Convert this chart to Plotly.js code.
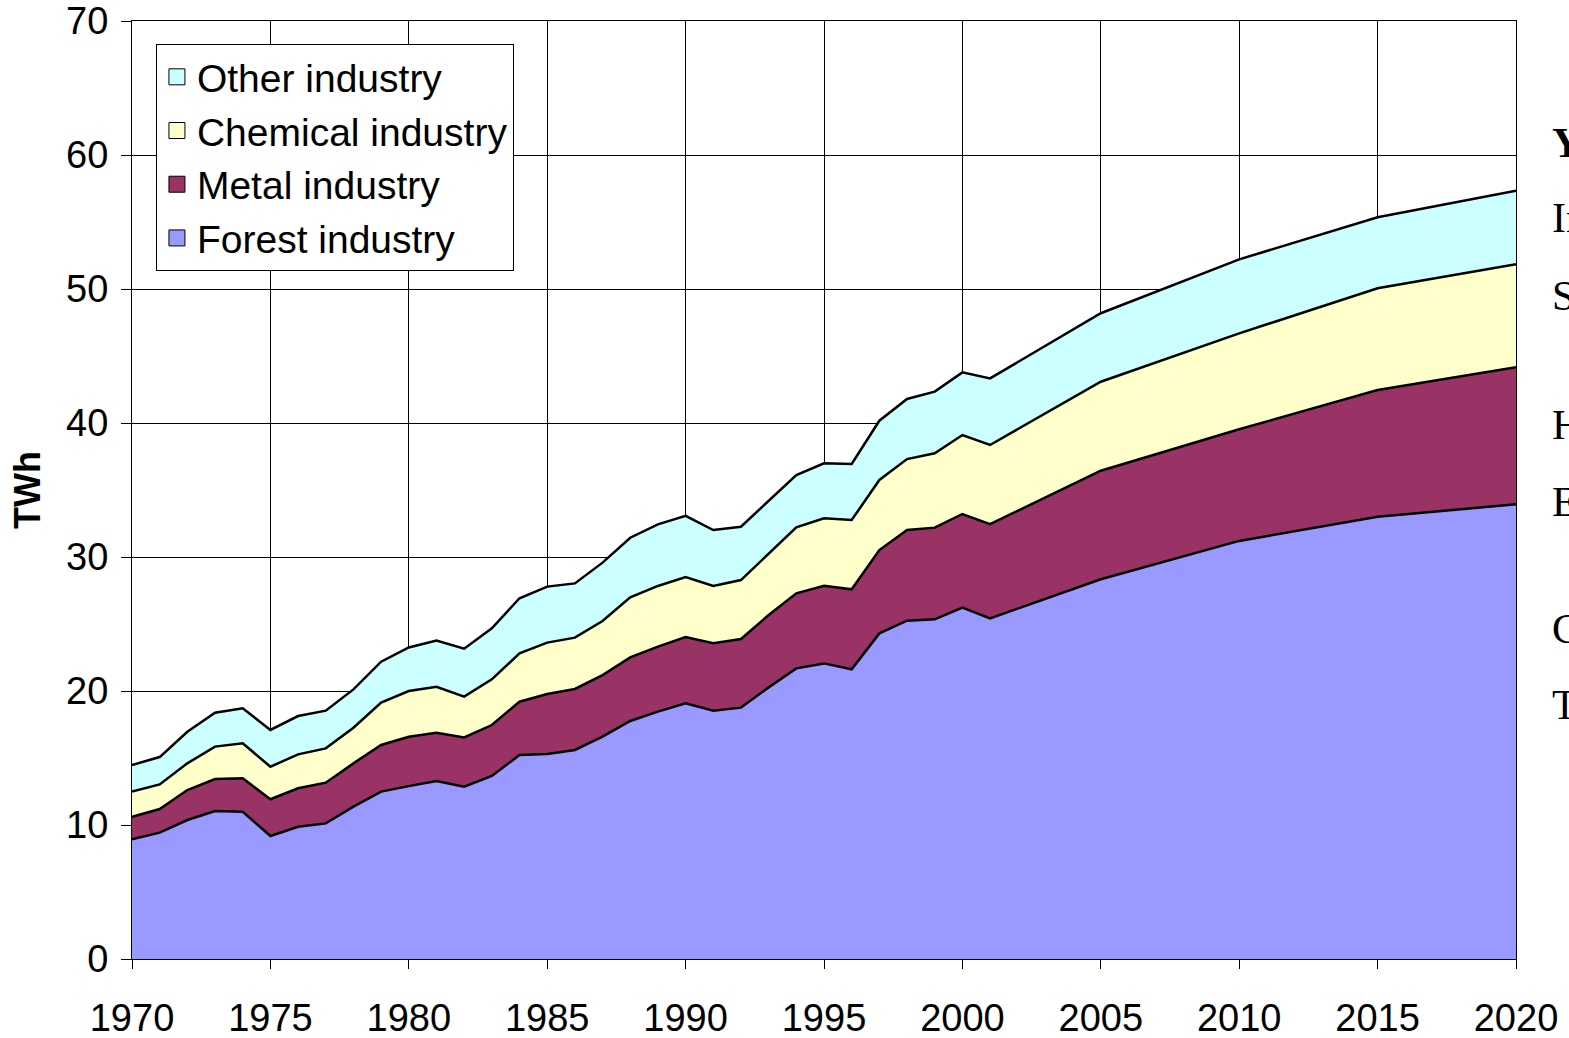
<!DOCTYPE html>
<html>
<head>
<meta charset="utf-8">
<script src="https://cdn.plot.ly/plotly-3.0.1.min.js"></script>
<style>
  html, body { margin: 0; padding: 0; background: #fff; }
  #chart { width: 1569px; height: 1038px; }
</style>
</head>
<body>
<div id="chart"></div>
<script>
// industrial electricity use, TWh
const years = [1970, 1971, 1972, 1973, 1974, 1975, 1976, 1977, 1978, 1979,
               1980, 1981, 1982, 1983, 1984, 1985, 1986, 1987, 1988, 1989,
               1990, 1991, 1992, 1993, 1994, 1995, 1996, 1997, 1998, 1999,
               2000, 2001, 2005, 2010, 2015, 2020];

const forest = [8.93, 9.43, 10.37, 11.04, 10.99, 9.18, 9.87, 10.12, 11.37, 12.49,
                12.90, 13.28, 12.86, 13.66, 15.22, 15.30, 15.60, 16.59, 17.76, 18.46,
                19.08, 18.53, 18.76, 20.27, 21.69, 22.06, 21.62, 24.30, 25.25, 25.35,
                26.22, 25.42, 28.34, 31.20, 33.01, 33.93];

const metal = [1.69, 1.76, 2.24, 2.39, 2.49, 2.74, 2.87, 3.04, 3.23, 3.48,
               3.69, 3.61, 3.68, 3.80, 3.98, 4.48, 4.55, 4.60, 4.75, 4.85,
               4.94, 5.03, 5.12, 5.40, 5.60, 5.80, 5.97, 6.22, 6.76, 6.84,
               6.99, 7.03, 8.10, 8.33, 9.45, 10.23];

const chemical = [1.87, 1.84, 1.99, 2.42, 2.62, 2.43, 2.53, 2.56, 2.66, 3.16,
                  3.41, 3.43, 3.04, 3.41, 3.61, 3.83, 3.83, 4.03, 4.48, 4.53,
                  4.48, 4.28, 4.40, 4.60, 4.92, 5.03, 5.17, 5.23, 5.30, 5.55,
                  5.89, 5.91, 6.64, 7.16, 7.59, 7.68];

const other = [1.99, 2.04, 2.36, 2.53, 2.61, 2.74, 2.86, 2.81, 2.86, 3.06,
               3.25, 3.44, 3.58, 3.81, 4.11, 4.18, 4.05, 4.36, 4.45, 4.60,
               4.57, 4.17, 3.98, 3.91, 3.91, 4.10, 4.18, 4.42, 4.48, 4.60,
               4.68, 4.97, 5.11, 5.52, 5.30, 5.50];

const seriesNames = ['Forest industry', 'Metal industry', 'Chemical industry', 'Other industry'];
const seriesColors = ['#9999FF', '#993366', '#FFFFCC', '#CCFFFF'];

// letters of a text block that is cut off at the right edge of the slide
const sideLabels = ['Y', 'In', 'S', 'H', 'E', 'C', 'T'];
const sideLabelY = [0.870, 0.790, 0.707, 0.569, 0.487, 0.352, 0.271];

const font = 'Liberation Sans, Arial, sans-serif';

// stacked areas (no legend entry of their own)
const areas = [forest, metal, chemical, other].map((values, i) => ({
    x: years,
    y: values,
    name: seriesNames[i],
    type: 'scatter',
    mode: 'lines',
    stackgroup: 'one',
    showlegend: false,
    fillcolor: seriesColors[i],
    line: { color: '#000000', width: 2.5 },
    hoverinfo: 'x+y+name'
}));

// legend-only entries so the key shows square swatches like the original
const keys = seriesNames.map((name, i) => ({
    x: [null],
    y: [null],
    name: name,
    type: 'scatter',
    mode: 'markers',
    legendgroup: 'g' + i,
    marker: { symbol: 'square', size: 22, color: seriesColors[i], line: { color: '#000', width: 1 } },
    hoverinfo: 'skip'
}));

const annotations = sideLabels.map((t, i) => ({
    xref: 'paper',
    yref: 'paper',
    x: 1.0246,
    y: sideLabelY[i],
    xanchor: 'left',
    yanchor: 'middle',
    text: i === 0 ? '<b>' + t + '</b>' : t,
    showarrow: false,
    font: { family: 'Liberation Serif, Times New Roman, serif', size: 42, color: '#000' }
}));

const layout = {
    width: 1569,
    height: 1038,
    margin: { l: 132, r: 53, t: 21, b: 79 },
    paper_bgcolor: 'white',
    plot_bgcolor: 'white',
    font: { family: font, size: 38, color: '#000' },
    showlegend: true,
    legend: {
        x: 0.0173,
        y: 0.9755,
        xanchor: 'left',
        yanchor: 'top',
        traceorder: 'reversed',
        tracegroupgap: 4,
        itemsizing: 'trace',
        bgcolor: 'white',
        bordercolor: '#000',
        borderwidth: 1,
        font: { family: font, size: 39, color: '#000' }
    },
    xaxis: {
        range: [1970, 2020],
        tickmode: 'array',
        tickvals: [1970, 1975, 1980, 1985, 1990, 1995, 2000, 2005, 2010, 2015, 2020],
        ticks: 'outside',
        ticklen: 9,
        tickcolor: '#000',
        ticklabelstandoff: 16,
        showgrid: true,
        gridcolor: '#000',
        gridwidth: 1,
        showline: true,
        linecolor: '#000',
        linewidth: 1,
        mirror: true,
        zeroline: false,
        tickfont: { family: font, size: 38 }
    },
    yaxis: {
        range: [0, 70],
        dtick: 10,
        ticks: 'outside',
        ticklen: 10,
        tickcolor: '#000',
        ticklabelstandoff: 5,
        showgrid: true,
        gridcolor: '#000',
        gridwidth: 1,
        showline: true,
        linecolor: '#000',
        linewidth: 1,
        mirror: true,
        zeroline: false,
        tickfont: { family: font, size: 38 },
        title: { text: '<b>TWh</b>', font: { family: font, size: 36 }, standoff: 14 }
    },
    annotations: annotations
};

Plotly.newPlot('chart', areas.concat(keys), layout, { displayModeBar: false, responsive: false });
</script>
</body>
</html>
